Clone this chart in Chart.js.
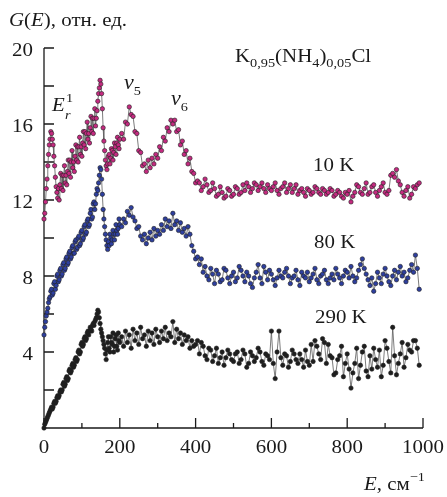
<!DOCTYPE html>
<html>
<head>
<meta charset="utf-8">
<script src="https://cdn.jsdelivr.net/npm/chart.js@4"></script>
<style>
  body { margin: 0; background: #fff; }
</style>
</head>
<body>
<canvas id="chart" width="447" height="497"></canvas>
<script>
// energy, cm^-1
const E = [0,2,4,6,8,10,12,14,16,18,20,22,24,26,28,30,32,34,36,38,40,42,44,46,48,50,52,54,56,58,60,62,64,66,68,70,72,74,76,78,80,82,84,86,88,90,92,94,96,98,100,
  102,104,106,108,110,112,114,116,118,120,122,124,126,128,130,132,134,136,138,140,142,144,146,148,150,152,154,156,158,160,162,164,166,168,170,172,174,176,178,180,182,184,186,188,190,192,194,196,198,200,
  205,210,215,220,225,230,235,240,245,250,255,260,265,270,275,280,285,290,295,300,305,310,315,320,325,330,335,340,345,350,355,360,365,370,375,380,385,390,395,400,
  405,410,415,420,425,430,435,440,445,450,455,460,465,470,475,480,485,490,495,500,505,510,515,520,525,530,535,540,545,550,555,560,565,570,575,580,585,590,595,600,
  605,610,615,620,625,630,635,640,645,650,655,660,665,670,675,680,685,690,695,700,705,710,715,720,725,730,735,740,745,750,755,760,765,770,775,780,785,790,795,800,
  805,810,815,820,825,830,835,840,845,850,855,860,865,870,875,880,885,890,895,900,905,910,915,920,925,930,935,940,945,950,955,960,965,970,975,980,985,990];

const g10K = [11.0,11.3,11.9,12.6,13.1,13.8,14.4,14.9,15.2,15.6,
  15.5,15.2,14.9,14.3,13.8,13.2,12.7,12.4,12.1,12.6,
  12.0,12.8,13.4,12.6,13.3,12.5,13.3,13.8,12.9,13.3,
  12.8,13.5,14.1,13.4,14.1,13.2,14.0,14.6,13.7,14.0,
  13.5,14.3,14.9,14.1,14.8,14.0,14.8,15.3,14.4,14.8,
  14.3,15.0,15.6,14.9,15.6,14.7,15.5,16.1,15.2,15.5,
  15.0,15.8,16.4,15.6,16.3,15.5,16.3,16.8,15.9,16.3,
  16.7,17.2,17.6,17.9,18.3,18.1,17.6,16.8,15.8,15.1,
  14.6,14.1,13.8,13.6,13.9,14.3,14.4,13.9,14.2,14.7,
  14.6,14.1,14.5,15.0,14.8,14.4,15.0,15.3,14.9,14.7,
  15.2,
  15.5,15.2,16.1,16.0,16.9,16.5,16.4,15.6,15.5,14.6,
  14.5,13.8,13.9,13.5,14.1,13.7,14.2,13.9,14.4,14.2,
  14.8,14.6,15.3,15.1,15.8,15.6,16.2,16.0,16.2,15.6,
  15.7,14.9,15.1,14.4,14.6,13.9,14.2,13.5,13.4,12.9,
  13.0,12.9,12.5,12.7,13.1,12.8,12.4,12.5,12.9,12.6,
  12.2,12.3,12.7,12.4,12.1,12.2,12.6,12.5,12.2,12.3,
  12.7,12.6,12.3,12.4,12.8,12.5,12.9,12.7,12.4,12.6,
  12.9,12.8,12.5,12.7,12.9,12.6,12.4,12.8,12.6,12.5,
  12.7,12.9,12.5,12.3,12.6,12.7,12.9,12.4,12.6,12.8,
  12.4,12.6,12.8,12.3,12.5,12.6,12.4,12.2,12.6,12.5,
  12.3,12.4,12.7,12.6,12.4,12.3,12.6,12.5,12.3,12.4,
  12.6,12.5,12.2,12.3,12.5,12.4,12.2,12.1,12.4,12.3,
  12.5,11.9,12.2,12.4,12.8,12.7,12.4,12.3,12.6,12.9,
  12.3,12.4,12.7,12.8,12.4,12.2,12.5,12.7,12.9,12.4,
  12.3,12.5,13.3,13.4,13.2,13.6,13.0,12.8,12.4,12.2,
  12.5,12.7,12.1,12.3,12.7,12.6,12.8,12.9];

const g80K = [4.9,5.3,5.6,5.9,6.1,6.3,6.6,6.8,6.9,7.2,
  7.3,7.0,7.1,7.6,7.7,7.3,7.5,8.0,8.1,7.7,
  7.8,8.3,8.4,8.0,8.1,8.6,8.7,8.3,8.4,8.9,
  9.0,8.6,8.7,9.2,9.3,8.9,9.0,9.5,9.6,9.2,
  9.2,9.8,9.9,9.4,9.5,10.0,10.1,9.6,9.7,10.3,
  10.4,9.9,10.0,10.6,10.7,10.2,10.3,10.9,11.0,10.6,
  10.7,11.3,11.5,11.0,11.1,11.8,11.9,11.5,11.8,12.3,
  12.6,12.5,12.9,13.3,13.7,13.6,13.1,12.3,11.5,11.0,
  10.6,10.2,9.9,9.6,9.4,9.8,9.6,10.2,10.0,9.7,
  9.9,10.4,10.2,9.9,10.2,10.7,10.4,10.2,10.5,11.0,
  10.7,
  10.6,11.0,10.8,11.4,11.2,11.6,11.1,10.9,10.5,10.6,
  10.1,9.9,10.2,9.7,10.0,10.3,9.9,10.5,10.1,10.4,
  10.2,10.7,10.4,11.0,10.6,10.9,10.5,11.3,10.7,10.9,
  10.4,10.8,10.3,10.5,10.1,10.6,10.2,9.6,9.3,8.9,
  9.0,8.6,8.9,8.2,8.5,8.0,7.8,8.4,8.1,7.6,
  8.3,8.1,7.7,7.8,8.4,8.3,7.9,7.6,8.0,8.2,
  7.7,7.9,8.5,8.3,8.0,7.7,8.2,8.0,7.6,7.4,
  7.9,8.2,8.6,7.9,7.6,8.5,8.2,7.8,8.3,8.1,
  7.8,7.5,7.9,8.3,8.0,7.9,8.2,8.4,8.0,7.6,
  7.9,8.0,8.3,7.8,7.5,8.2,8.0,7.9,8.2,7.7,
  7.9,8.1,8.4,7.8,7.6,8.0,8.1,8.3,7.8,7.6,
  7.9,8.1,7.8,8.4,8.1,7.9,7.6,8.0,8.3,8.2,
  7.9,8.5,8.0,7.7,7.9,8.3,8.6,8.9,8.4,8.1,
  7.8,7.5,7.9,7.2,7.6,8.2,7.9,7.6,8.1,8.4,
  8.0,7.7,7.5,8.0,8.3,7.8,8.2,8.5,8.0,8.2,
  7.7,7.9,8.3,8.6,8.2,9.1,8.4,7.3];

const g290K = [0.0,0.2,0.3,0.4,0.5,0.6,0.7,0.8,0.9,1.0,
  1.1,1.0,1.1,1.3,1.4,1.3,1.4,1.6,1.7,1.6,
  1.7,1.9,2.0,1.9,2.0,2.3,2.4,2.2,2.3,2.6,
  2.7,2.5,2.6,3.0,3.1,2.9,3.0,3.3,3.4,3.2,
  3.3,3.6,3.7,3.5,3.6,4.0,4.1,3.9,4.0,4.4,
  4.5,4.3,4.4,4.7,4.8,4.6,4.7,5.0,5.1,4.9,
  5.1,5.3,5.2,5.1,5.4,5.5,5.4,5.6,5.7,5.8,
  6.0,6.2,6.1,5.8,5.5,5.2,5.0,4.8,4.6,4.4,
  4.2,3.9,3.6,4.1,4.5,4.8,4.2,4.0,4.8,4.5,
  4.4,5.0,4.0,4.3,4.7,4.9,4.3,4.1,5.0,4.6,
  4.5,
  4.8,4.3,5.1,4.5,4.9,4.2,5.2,4.6,5.0,4.4,
  5.3,4.7,4.9,4.3,5.1,4.6,5.0,4.4,5.2,4.8,
  4.5,5.1,4.7,5.3,4.6,5.0,4.8,5.6,4.5,5.2,
  4.7,5.0,4.4,4.9,4.6,4.8,4.2,4.6,4.3,4.4,
  4.6,3.9,4.5,4.3,3.8,3.6,4.2,4.1,3.5,3.8,
  4.2,3.4,3.7,4.0,3.3,3.7,4.1,3.9,3.6,3.5,
  3.9,4.0,3.4,3.6,4.1,3.9,3.2,3.4,4.0,3.8,
  3.5,3.7,4.2,4.0,3.5,3.3,3.9,3.8,3.6,5.1,
  3.4,2.6,4.0,5.1,3.7,3.3,3.9,3.8,3.2,3.5,
  4.1,3.9,3.6,3.4,3.9,3.6,3.2,4.1,3.5,3.3,
  4.4,3.5,4.6,4.3,3.9,3.6,4.7,4.5,3.4,4.4,
  3.8,3.7,2.8,2.9,3.6,3.8,4.3,2.7,3.4,3.9,
  3.1,2.1,2.9,3.4,4.2,2.6,3.3,4.0,4.3,3.0,
  2.7,3.8,3.1,4.2,3.6,3.2,4.1,2.7,3.3,4.6,
  4.2,3.5,2.9,5.3,3.8,2.8,3.4,3.9,4.5,3.2,
  3.7,4.4,4.1,4.0,4.6,4.6,4.2,3.3];

const xTicks = [0, 200, 400, 600, 800, 1000];
const xMinor = [100, 300, 500, 700, 900];
const yTicks = [4, 8, 12, 16, 20];
const yMinor = [2, 6, 10, 14, 18];

const SERIF = '"Liberation Serif", "Times New Roman", serif';
const SX = 1.1; // original type is a bit wider than Times

function pts(vals) {
  return E.map((e, i) => ({ x: e, y: vals[i] }));
}

// runs: [text, size, italic, dy]
function drawRuns(ctx, x, y, runs, align) {
  let w = 0;
  runs.forEach(r => {
    ctx.font = (r[2] ? 'italic ' : '') + r[1] + 'px ' + SERIF;
    w += ctx.measureText(r[0]).width * SX;
  });
  let cx = x;
  if (align === 'center') cx = x - w / 2;
  if (align === 'right') cx = x - w;
  runs.forEach(r => {
    ctx.font = (r[2] ? 'italic ' : '') + r[1] + 'px ' + SERIF;
    ctx.save();
    ctx.translate(cx, y + (r[3] || 0));
    ctx.scale(SX, 1);
    ctx.fillText(r[0], 0, 0);
    ctx.restore();
    cx += ctx.measureText(r[0]).width * SX;
  });
}

const axesPlugin = {
  id: 'axes',
  beforeDatasetsDraw(chart) {
    const { ctx, scales: { x, y } } = chart;
    const x0 = x.getPixelForValue(0), x1 = x.getPixelForValue(1000);
    const y0 = y.getPixelForValue(0), y1 = y.getPixelForValue(20);
    ctx.save();
    ctx.strokeStyle = '#1a1a1a';
    ctx.lineWidth = 1.3;
    ctx.beginPath();
    ctx.moveTo(x0, y1);
    ctx.lineTo(x0, y0);
    ctx.lineTo(x1, y0);
    ctx.stroke();
    ctx.beginPath();
    xTicks.forEach(v => { const p = x.getPixelForValue(v); ctx.moveTo(p, y0); ctx.lineTo(p, y0 - 10); });
    xMinor.forEach(v => { const p = x.getPixelForValue(v); ctx.moveTo(p, y0); ctx.lineTo(p, y0 - 5); });
    yTicks.concat(yMinor).forEach(v => { const p = y.getPixelForValue(v); ctx.moveTo(x0, p); ctx.lineTo(x0 + 10, p); });
    ctx.stroke();

    ctx.fillStyle = '#1a1a1a';
    ctx.textBaseline = 'alphabetic';
    xTicks.forEach(v => drawRuns(ctx, x.getPixelForValue(v), y0 + 25, [[String(v), 19]], 'center'));
    yTicks.forEach(v => drawRuns(ctx, x0 - 11, y.getPixelForValue(v) + 8, [[String(v), 19]], 'right'));
    ctx.restore();
  },
  afterDraw(chart) {
    const ctx = chart.ctx;
    ctx.save();
    ctx.fillStyle = '#1a1a1a';
    ctx.textBaseline = 'alphabetic';
    drawRuns(ctx, 9, 26, [['G', 19, true], ['(', 19], ['E', 19, true], ['), отн. ед.', 19]]);
    drawRuns(ctx, 364, 490, [['E', 19, true], [', см', 19], ['\u22121', 13, false, -9]]);
    drawRuns(ctx, 235, 62, [['K', 19], ['0,95', 13, false, 5], ['(NH', 19], ['4', 13, false, 5], [')', 19], ['0,05', 13, false, 5], ['Cl', 19]]);
    drawRuns(ctx, 52, 111, [['E', 19, true]]);
    drawRuns(ctx, 66, 102, [['1', 13]]);
    drawRuns(ctx, 65, 119, [['r', 13, true]]);
    drawRuns(ctx, 124, 89, [['\u03BD', 20, true], ['5', 13, false, 6]]);
    drawRuns(ctx, 171, 105, [['\u03BD', 20, true], ['6', 13, false, 6]]);
    drawRuns(ctx, 313, 171, [['10 K', 19]]);
    drawRuns(ctx, 314, 248, [['80 K', 19]]);
    drawRuns(ctx, 315, 323, [['290 K', 19]]);
    ctx.restore();
  }
};

function series(label, vals, color) {
  return {
    label: label,
    data: pts(vals),
    showLine: true,
    borderColor: '#5a5a5a',
    borderWidth: 0.8,
    pointRadius: 2.2,
    pointBackgroundColor: color,
    pointBorderColor: '#222',
    pointBorderWidth: 0.6,
    clip: false
  };
}

const ctx = document.getElementById('chart').getContext('2d');
const chart = new Chart(ctx, {
  type: 'scatter',
  data: {
    datasets: [
      series('10 K', g10K, '#c42a80'),
      series('80 K', g80K, '#2e3f9e'),
      series('290 K', g290K, '#1e1e1e')
    ]
  },
  options: {
    responsive: false,
    animation: false,
    devicePixelRatio: 1,
    layout: { padding: { left: 44, right: 24, top: 48, bottom: 69 } },
    plugins: { legend: { display: false }, tooltip: { enabled: false } },
    scales: {
      x: { type: 'linear', min: 0, max: 1000, display: false },
      y: { type: 'linear', min: 0, max: 20, display: false }
    }
  },
  plugins: [axesPlugin]
});
</script>
</body>
</html>
